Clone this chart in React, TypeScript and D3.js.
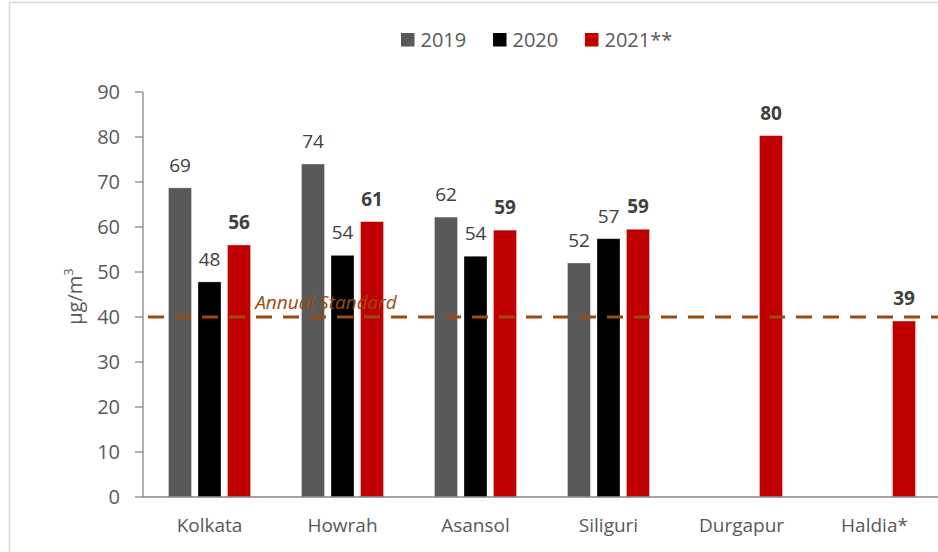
// App
import { useEffect, useRef } from 'react';
import * as d3 from 'd3';

// data
const cities: string[] = ['Kolkata', 'Howrah', 'Asansol', 'Siliguri', 'Durgapur', 'Haldia*'];
const seriesNames: string[] = ['2019', '2020', '2021**'];
const values2019: (number | null)[] = [68.7, 74.0, 62.2, 52.0, null, null];
const values2020: (number | null)[] = [47.8, 53.7, 53.5, 57.4, null, null];
const values2021: (number | null)[] = [56.0, 61.2, 59.3, 59.5, 80.3, 39.1];
const labels2019: string[] = ['69', '74', '62', '52', '', ''];
const labels2020: string[] = ['48', '54', '54', '57', '', ''];
const labels2021: string[] = ['56', '61', '59', '59', '80', '39'];
const yTicks: number[] = [0, 10, 20, 30, 40, 50, 60, 70, 80, 90];
const annualStandard = 40;

const colors = ['#595959', '#000000', '#C00000'];
const FONT = "'Open Sans', 'Noto Sans', sans-serif";

interface IBar {
	city: string;
	series: string;
	value: number;
	label: string;
	idx: number;
}

function App() {
	const ref = useRef<SVGSVGElement | null>(null);
	const width = 938;
	const height = 552;

	useEffect(() => {
		const svg = d3.select(ref.current);
		svg.selectAll('*').remove();

		const margin = { top: 92, right: -3, bottom: 55, left: 143 };

		const x0 = d3.scaleBand<string>().domain(cities).range([margin.left, width - margin.right]).paddingInner(0).paddingOuter(0);
		const x1 = d3
			.scaleBand<string>()
			.domain(seriesNames)
			.range([0, x0.bandwidth()])
			.paddingInner(0.22)
			.paddingOuter(0.864);
		const y = d3.scaleLinear().domain([0, 90]).range([height - margin.bottom, margin.top]);

		// outer frame (cropped chart area)
		svg.append('path')
			.attr('d', `M9.5,${height} V2.5 H${width}`)
			.attr('fill', 'none')
			.attr('stroke', '#d9d9d9')
			.attr('stroke-width', 1.5);

		// legend
		const legendX = [401, 493, 585];
		const legend = svg.append('g');
		seriesNames.forEach((s, i) => {
			legend.append('rect')
				.attr('x', legendX[i])
				.attr('y', 33)
				.attr('width', 13.5)
				.attr('height', 13.5)
				.attr('fill', colors[i]);
			legend.append('text')
				.attr('x', legendX[i] + 19.5)
				.attr('y', 47)
				.attr('font-family', FONT)
				.attr('font-size', 20)
				.attr('fill', '#595959')
				.text(s);
		});

		// y axis
		const yAxis = svg.append('g');
		yAxis.append('line')
			.attr('x1', margin.left)
			.attr('x2', margin.left)
			.attr('y1', y(90))
			.attr('y2', y(0))
			.attr('stroke', '#868686')
			.attr('stroke-width', 1.3);
		yTicks.forEach((t) => {
			yAxis.append('line')
				.attr('x1', margin.left - 8)
				.attr('x2', margin.left)
				.attr('y1', y(t))
				.attr('y2', y(t))
				.attr('stroke', '#868686')
				.attr('stroke-width', 1.3);
			yAxis.append('text')
				.attr('x', margin.left - 23)
				.attr('y', y(t))
				.attr('dy', '0.36em')
				.attr('text-anchor', 'end')
				.attr('font-family', FONT)
				.attr('font-size', 20)
				.attr('fill', '#595959')
				.text(t);
		});

		// y title
		const title = svg.append('text')
			.attr('transform', `translate(82, ${(y(0) + y(90)) / 2 + 2}) rotate(-90)`)
			.attr('text-anchor', 'middle')
			.attr('font-family', FONT)
			.attr('font-size', 20)
			.attr('fill', '#595959');
		title.append('tspan').text('µg/m');
		title.append('tspan').attr('font-size', 13).attr('dy', -9).text('3');

		// bars
		const allValues = [values2019, values2020, values2021];
		const allLabels = [labels2019, labels2020, labels2021];
		const bars: IBar[] = [];
		cities.forEach((c, ci) => {
			seriesNames.forEach((s, si) => {
				const v = allValues[si][ci];
				if (v !== null) bars.push({ city: c, series: s, value: v, label: allLabels[si][ci], idx: si });
			});
		});

		const barG = svg.append('g');
		barG.selectAll('rect')
			.data(bars)
			.enter()
			.append('rect')
			.attr('x', (d) => (x0(d.city) ?? 0) + (x1(d.series) ?? 0))
			.attr('y', (d) => y(d.value))
			.attr('width', x1.bandwidth())
			.attr('height', (d) => y(0) - y(d.value))
			.attr('fill', (d) => colors[d.idx])
			.attr('stroke', '#ffffff')
			.attr('stroke-opacity', 0.4)
			.attr('stroke-width', 0.8);

		barG.selectAll('text')
			.data(bars)
			.enter()
			.append('text')
			.attr('x', (d) => (x0(d.city) ?? 0) + (x1(d.series) ?? 0) + x1.bandwidth() / 2)
			.attr('y', (d) => y(d.value) - 16)
			.attr('text-anchor', 'middle')
			.attr('font-family', FONT)
			.attr('font-size', 19)
			.attr('font-weight', (d) => (d.idx === 2 ? 700 : 400))
			.attr('fill', '#404040')
			.text((d) => d.label);

		// x axis
		svg.append('line')
			.attr('x1', margin.left)
			.attr('x2', width)
			.attr('y1', y(0))
			.attr('y2', y(0))
			.attr('stroke', '#868686')
			.attr('stroke-width', 1.3);
		svg.append('g')
			.selectAll('text')
			.data(cities)
			.enter()
			.append('text')
			.attr('x', (d) => (x0(d) ?? 0) + x0.bandwidth() / 2)
			.attr('y', y(0) + 35)
			.attr('text-anchor', 'middle')
			.attr('font-family', FONT)
			.attr('font-size', 19)
			.attr('fill', '#595959')
			.text((d) => d);

		// annual standard line
		svg.append('line')
			.attr('x1', margin.left + 5)
			.attr('x2', width)
			.attr('y1', y(annualStandard))
			.attr('y2', y(annualStandard))
			.attr('stroke', '#9C4A0E')
			.attr('stroke-width', 3.2)
			.attr('stroke-dasharray', '16,11');
		svg.append('text')
			.attr('x', 326)
			.attr('y', y(annualStandard) - 8)
			.attr('text-anchor', 'middle')
			.attr('font-family', FONT)
			.attr('font-size', 19)
			.attr('font-style', 'italic')
			.attr('fill', '#9C4A0E')
			.text('Annual Standard');
	}, []);

	return (
		<svg
			ref={ref}
			width={width}
			height={height}
			style={{ position: 'absolute', left: 0, top: 0, background: '#ffffff' }}
		/>
	);
}
// Export React component
export default App;
